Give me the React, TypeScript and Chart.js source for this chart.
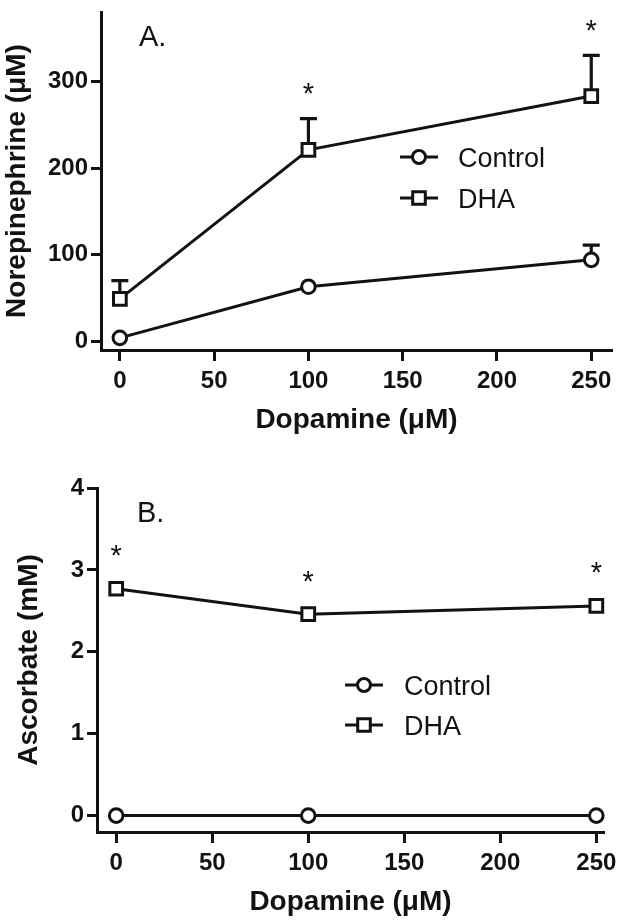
import { useEffect, useRef } from 'react';
import { Chart, registerables } from 'chart.js';

Chart.register(...registerables);

// ---------- data ----------
const doses = [0, 100, 250];
const xTickValues = [0, 50, 100, 150, 200, 250];

// Panel A: Norepinephrine (µM)
const neControl = [4, 63, 94];
const neControlErr = [0, 0, 17];
const neDHA = [49, 221, 283];
const neDHAErr = [21, 36, 47];
const neStars = [null, 292, 364];
const neYTicks = [0, 100, 200, 300];

// Panel B: Ascorbate (mM)
const ascControl = [0, 0, 0];
const ascControlErr = [0, 0, 0];
const ascDHA = [2.77, 2.46, 2.56];
const ascDHAErr = [0, 0, 0];
const ascStars = [3.24, 2.92, 3.03];
const ascYTicks = [0, 1, 2, 3, 4];

const seriesNames = ['Control', 'DHA'];
const xTitle = 'Dopamine (\u03bcM)';

const FONT = "'Liberation Sans', Arial, Helvetica, sans-serif";
const INK = '#121212';

type PanelCfg = {
  height: number;
  chartLeft: number;
  chartRight: number;
  chartTop: number;
  chartBottom: number;
  xMin: number;
  xMax: number;
  yMin: number;
  yMax: number;
  yTicks: number[];
  control: number[];
  controlErr: number[];
  dha: number[];
  dhaErr: number[];
  stars: (number | null)[];
  yTitle: string;
  yTitleX: number;
  panelLabel: string;
  panelLabelX: number;
  panelLabelY: number;
  legendX: number;
  legendY: number[];
  legendTextX: number;
};

function centeredText(ctx: CanvasRenderingContext2D, text: string, x: number, cy: number) {
  const m = ctx.measureText(text);
  const baseline = cy + (m.actualBoundingBoxAscent - m.actualBoundingBoxDescent) / 2;
  ctx.fillText(text, x, baseline);
}

function drawMarker(ctx: CanvasRenderingContext2D, style: string, x: number, y: number) {
  ctx.save();
  ctx.lineWidth = 3;
  ctx.strokeStyle = INK;
  ctx.fillStyle = '#fff';
  ctx.beginPath();
  if (style === 'circle') {
    ctx.arc(x, y, 6.5, 0, Math.PI * 2);
  } else {
    const s = 6.3;
    ctx.rect(x - s, y - s, 2 * s, 2 * s);
  }
  ctx.fill();
  ctx.stroke();
  ctx.restore();
}

function makePlugin(cfg: PanelCfg) {
  return {
    id: 'panelDecor',
    beforeDatasetsDraw(chart: any) {
      const ctx: CanvasRenderingContext2D = chart.ctx;
      const xs = chart.scales.x;
      const ys = chart.scales.y;
      const sets = [
        { v: cfg.control, e: cfg.controlErr },
        { v: cfg.dha, e: cfg.dhaErr },
      ];
      ctx.save();
      ctx.strokeStyle = INK;
      ctx.lineWidth = 3.2;
      sets.forEach((s) => {
        doses.forEach((d, i) => {
          const err = s.e[i];
          if (!err) return;
          const px = xs.getPixelForValue(d);
          const y0 = ys.getPixelForValue(s.v[i]);
          const y1 = ys.getPixelForValue(s.v[i] + err);
          ctx.beginPath();
          ctx.moveTo(px, y0);
          ctx.lineTo(px, y1);
          ctx.moveTo(px - 8.5, y1);
          ctx.lineTo(px + 8.5, y1);
          ctx.stroke();
        });
      });
      ctx.restore();
    },
    afterDraw(chart: any) {
      const ctx: CanvasRenderingContext2D = chart.ctx;
      const xs = chart.scales.x;
      const ys = chart.scales.y;
      const area = chart.chartArea;
      ctx.save();
      ctx.fillStyle = INK;
      // asterisks
      ctx.font = `29px ${FONT}`;
      ctx.textAlign = 'center';
      cfg.stars.forEach((v, i) => {
        if (v === null || v === undefined) return;
        centeredText(ctx, '*', xs.getPixelForValue(doses[i]), ys.getPixelForValue(v));
      });
      // panel label
      ctx.textAlign = 'left';
      ctx.font = `29px ${FONT}`;
      centeredText(ctx, cfg.panelLabel, cfg.panelLabelX, cfg.panelLabelY);
      // x title
      ctx.font = `bold 28px ${FONT}`;
      ctx.textAlign = 'center';
      centeredText(ctx, xTitle, (area.left + area.right) / 2, area.bottom + 71);
      // y title
      ctx.save();
      ctx.translate(cfg.yTitleX, (area.top + area.bottom) / 2);
      ctx.rotate(-Math.PI / 2);
      ctx.textAlign = 'center';
      centeredText(ctx, cfg.yTitle, 0, 0);
      ctx.restore();
      // legend
      const styles = ['circle', 'rect'];
      seriesNames.forEach((name, i) => {
        const ly = cfg.legendY[i];
        ctx.save();
        ctx.strokeStyle = INK;
        ctx.lineWidth = 3;
        ctx.beginPath();
        ctx.moveTo(cfg.legendX - 19, ly);
        ctx.lineTo(cfg.legendX + 19, ly);
        ctx.stroke();
        ctx.restore();
        drawMarker(ctx, styles[i], cfg.legendX, ly);
        ctx.fillStyle = INK;
        ctx.font = `27px ${FONT}`;
        ctx.textAlign = 'left';
        ctx.textBaseline = 'alphabetic';
        const m = ctx.measureText('C');
        ctx.fillText(name, cfg.legendTextX, ly + m.actualBoundingBoxAscent / 2);
      });
      ctx.restore();
    },
  };
}

function Panel({ cfg, top }: { cfg: PanelCfg; top: number }) {
  const ref = useRef<HTMLCanvasElement | null>(null);
  useEffect(() => {
    if (!ref.current) return;
    const tickFont = { family: FONT, size: 24, weight: 'bold' as const };
    const lineDs = (label: string, vals: number[], style: string, radius: number) => ({
      label,
      data: doses.map((d, i) => ({ x: d, y: vals[i] })),
      borderColor: INK,
      borderWidth: 3,
      pointStyle: style,
      pointRadius: radius,
      pointBorderWidth: 3,
      pointBackgroundColor: '#fff',
      pointBorderColor: INK,
      fill: false,
      tension: 0,
      clip: false,
    });
    const chart = new Chart(ref.current, {
      type: 'line',
      data: {
        datasets: [
          lineDs(seriesNames[0], cfg.control, 'circle', 6.8),
          lineDs(seriesNames[1], cfg.dha, 'rect', 9),
        ],
      },
      options: {
        animation: false,
        responsive: true,
        maintainAspectRatio: false,
        events: [],
        layout: { padding: { top: cfg.chartTop, right: 624 - cfg.chartRight, left: 0, bottom: 0 } },
        plugins: { legend: { display: false }, tooltip: { enabled: false } },
        scales: {
          x: {
            type: 'linear',
            min: cfg.xMin,
            max: cfg.xMax,
            afterBuildTicks: (s: any) => {
              s.ticks = xTickValues.map((v) => ({ value: v }));
            },
            afterFit: (s: any) => {
              s.height = cfg.height - cfg.chartBottom;
              s.paddingLeft = 0;
              s.paddingRight = 0;
            },
            ticks: { font: tickFont, color: INK, padding: 6, maxRotation: 0, autoSkip: false },
            grid: { display: true, drawOnChartArea: false, drawTicks: true, tickLength: 11, tickWidth: 3, tickColor: INK },
            border: { display: true, width: 3, color: INK },
          },
          y: {
            type: 'linear',
            min: cfg.yMin,
            max: cfg.yMax,
            afterBuildTicks: (s: any) => {
              s.ticks = cfg.yTicks.map((v) => ({ value: v }));
            },
            afterFit: (s: any) => {
              s.width = cfg.chartLeft;
              s.paddingTop = 0;
              s.paddingBottom = 0;
            },
            ticks: { font: tickFont, color: INK, padding: 3 },
            grid: { display: true, drawOnChartArea: false, drawTicks: true, tickLength: 10, tickWidth: 3, tickColor: INK },
            border: { display: true, width: 3, color: INK },
          },
        },
      },
      plugins: [makePlugin(cfg)],
    } as any);
    return () => chart.destroy();
  }, [cfg]);
  return (
    <div style={{ position: 'absolute', left: 0, top, width: 624, height: cfg.height }}>
      <canvas ref={ref} />
    </div>
  );
}

const panelA: PanelCfg = {
  height: 460,
  chartLeft: 101,
  chartRight: 620,
  chartTop: 8,
  chartBottom: 350,
  xMin: -10,
  xMax: 261,
  yMin: -10,
  yMax: 380,
  yTicks: neYTicks,
  control: neControl,
  controlErr: neControlErr,
  dha: neDHA,
  dhaErr: neDHAErr,
  stars: neStars,
  yTitle: 'Norepinephrine (\u03bcM)',
  yTitleX: 18,
  panelLabel: 'A.',
  panelLabelX: 139,
  panelLabelY: 36,
  legendX: 419,
  legendY: [157, 198],
  legendTextX: 458,
};

const panelB: PanelCfg = {
  height: 463,
  chartLeft: 97,
  chartRight: 604,
  chartTop: 28,
  chartBottom: 372,
  xMin: -10,
  xMax: 254,
  yMin: -0.2,
  yMax: 4,
  yTicks: ascYTicks,
  control: ascControl,
  controlErr: ascControlErr,
  dha: ascDHA,
  dhaErr: ascDHAErr,
  stars: ascStars,
  yTitle: 'Ascorbate (mM)',
  yTitleX: 30,
  panelLabel: 'B.',
  panelLabelX: 137,
  panelLabelY: 52,
  legendX: 364,
  legendY: [225, 265],
  legendTextX: 404,
};

export default function App() {
  return (
    <div style={{ position: 'absolute', left: 0, top: 0, width: 624, height: 923, background: '#fff' }}>
      <Panel cfg={panelA} top={0} />
      <Panel cfg={panelB} top={460} />
    </div>
  );
}
